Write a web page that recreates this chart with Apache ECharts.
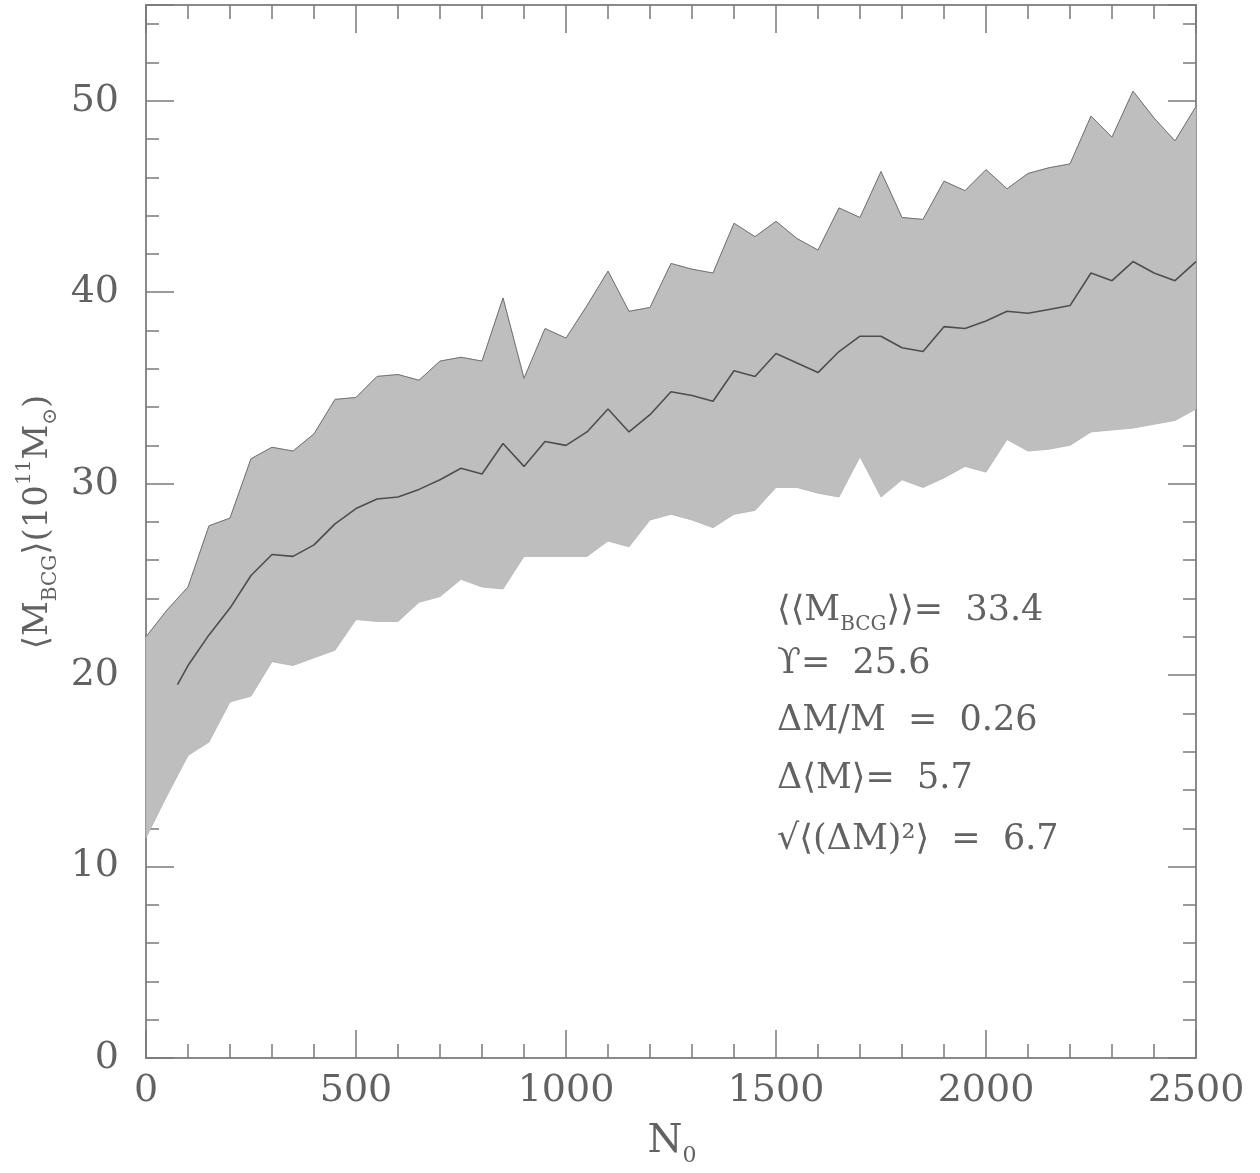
<!DOCTYPE html>
<html><head><meta charset="utf-8">
<script src="https://cdn.jsdelivr.net/npm/echarts@6/dist/echarts.min.js"></script>
<style>html,body{margin:0;padding:0;background:#fff}#c{width:1260px;height:1173px}</style>
</head><body><div id="c"></div>
<script>
// ---- data ----
const nValues = [0,50,100,150,200,250,300,350,400,450,500,550,600,650,700,750,800,850,900,950,
  1000,1050,1100,1150,1200,1250,1300,1350,1400,1450,1500,1550,1600,1650,1700,1750,1800,1850,1900,1950,
  2000,2050,2100,2150,2200,2250,2300,2350,2400,2450,2500];
const upperValues = [22.0,23.4,24.6,27.8,28.2,31.3,31.9,31.7,32.6,34.4,
  34.5,35.6,35.7,35.4,36.4,36.6,36.4,39.7,35.5,38.1,
  37.6,39.3,41.1,39.0,39.2,41.5,41.2,41.0,43.6,42.9,
  43.7,42.8,42.2,44.4,43.9,46.3,43.9,43.8,45.8,45.3,
  46.4,45.4,46.2,46.5,46.7,49.2,48.1,50.5,49.1,47.9,49.7];
const lowerValues = [11.5,13.7,15.8,16.5,18.6,18.9,20.7,20.5,20.9,21.3,
  22.9,22.8,22.8,23.8,24.1,25.0,24.6,24.5,26.2,26.2,
  26.2,26.2,27.0,26.7,28.1,28.4,28.1,27.7,28.4,28.6,
  29.8,29.8,29.5,29.3,31.4,29.3,30.2,29.8,30.3,30.9,
  30.6,32.3,31.7,31.8,32.0,32.7,32.8,32.9,33.1,33.3,33.9];
const meanN = [75,100,150,200,250,300,350,400,450,500,550,600,650,700,750,800,850,900,950,
  1000,1050,1100,1150,1200,1250,1300,1350,1400,1450,1500,1550,1600,1650,1700,1750,1800,1850,1900,1950,
  2000,2050,2100,2150,2200,2250,2300,2350,2400,2450,2500];
const meanValues = [19.5,20.5,22.1,23.5,25.2,26.3,26.2,26.8,27.9,28.7,29.2,29.3,29.7,30.2,30.8,30.5,32.1,30.9,32.2,
  32.0,32.7,33.9,32.7,33.6,34.8,34.6,34.3,35.9,35.6,36.8,36.3,35.8,36.9,37.7,37.7,37.1,36.9,38.2,38.1,
  38.5,39.0,38.9,39.1,39.3,41.0,40.6,41.6,41.0,40.6,41.6];
const yTickLabels = [0,10,20,30,40,50];
const xTickLabels = [0,500,1000,1500,2000,2500];

// ---- style ----
const FONT = '"DejaVu Serif", "Liberation Serif", serif';
const TXT = '#626262';
const AX = '#8a8a8a';

const chart = echarts.init(document.getElementById('c'), null, {renderer: 'canvas'});

const bandData = nValues.map((n, i) => [n, lowerValues[i], upperValues[i]]);
const upperData = nValues.map((n, i) => [n, upperValues[i]]);
const meanData = meanN.map((n, i) => [n, meanValues[i]]);

function yAxisDef(pos, major, showLabel) {
  return {
    type: 'value', position: pos, min: 0, max: 55, interval: major ? 10 : 2,
    axisLine: {show: true, onZero: false, lineStyle: {color: AX, width: 2}},
    axisTick: {show: true, inside: true, length: major ? 28 : 13, lineStyle: {color: '#7a7a7a', width: 1.5}},
    axisLabel: {show: showLabel, margin: 27, fontSize: 38, color: TXT, fontFamily: FONT,
      formatter: v => (yTickLabels.indexOf(v) >= 0 ? String(v) : '')},
    splitLine: {show: false}
  };
}
function xAxisDef(pos, showLabel) {
  return {
    type: 'value', position: pos, min: 0, max: 2500, interval: 500,
    axisLine: {show: true, onZero: false, lineStyle: {color: AX, width: 2}},
    axisTick: {show: true, inside: true, length: 28, lineStyle: {color: '#7a7a7a', width: 1.5}},
    minorTick: {show: true, splitNumber: 5, length: 14, lineStyle: {color: '#7a7a7a', width: 1.5}},
    axisLabel: {show: showLabel, margin: 14, fontSize: 38, color: TXT, fontFamily: FONT,
      formatter: v => (xTickLabels.indexOf(v) >= 0 ? String(v) : '')},
    splitLine: {show: false}, minorSplitLine: {show: false}
  };
}

const mainRich = {
  m: {fontSize: 34, fontFamily: FONT, color: TXT, lineHeight: 46, verticalAlign: 'middle'},
  sb: {fontSize: 20, fontFamily: FONT, color: TXT, lineHeight: 22, verticalAlign: 'bottom'},
  sp: {fontSize: 20, fontFamily: FONT, color: TXT, lineHeight: 26, verticalAlign: 'top'}
};
const statRich = {
  m: {fontSize: 35, fontFamily: FONT, color: TXT, lineHeight: 48, verticalAlign: 'middle'},
  sb: {fontSize: 20, fontFamily: FONT, color: TXT, lineHeight: 21, verticalAlign: 'bottom'}
};
const statLines = [
  '{m|⟨⟨M}{sb|BCG}{m|⟩⟩=  33.4}',
  '{m|ϒ=  25.6}',
  '{m|ΔM/M  =  0.26}',
  '{m|Δ⟨M⟩=  5.7}',
  '{m|√⟨(ΔM)²⟩  =  6.7}'
];
const statY = [617, 670, 727, 785, 846];

const graphics = statLines.map((t, i) => ({
  type: 'text', left: 777, top: statY[i] - 24, z: 10,
  style: {text: t, rich: statRich, fill: TXT}
}));
graphics.push({
  type: 'text', x: 38, y: 522, rotation: Math.PI / 2, z: 10,
  style: {text: '{m|⟨M}{sb|BCG}{m|⟩(10}{sp|11}{m|M}{sb|⊙}{m|)}', rich: mainRich,
    align: 'center', verticalAlign: 'middle', fill: TXT}
});
graphics.push({
  type: 'text', x: 672, y: 1142, z: 10,
  style: {text: '{m|N}{sb|0}', rich: {
      m: {fontSize: 40, fontFamily: FONT, color: TXT, lineHeight: 50, verticalAlign: 'middle'},
      sb: {fontSize: 22, fontFamily: FONT, color: TXT, lineHeight: 26, verticalAlign: 'bottom'}},
    align: 'center', verticalAlign: 'middle', fill: TXT}
});

chart.setOption({
  backgroundColor: '#ffffff',
  animation: false,
  grid: {left: 146, right: 64, top: 5, bottom: 115, containLabel: false},
  xAxis: [xAxisDef('bottom', true), xAxisDef('top', false)],
  yAxis: [yAxisDef('left', true, true), yAxisDef('left', false, false),
          yAxisDef('right', true, false), yAxisDef('right', false, false)],
  series: [
    {
      type: 'custom', xAxisIndex: 0, yAxisIndex: 0, z: 2,
      data: bandData, encode: {x: 0, y: [1, 2]},
      renderItem: function (params, api) {
        if (params.dataIndex !== 0) return null;
        const pts = [];
        for (let i = 0; i < nValues.length; i++) pts.push(api.coord([nValues[i], upperValues[i]]));
        for (let i = nValues.length - 1; i >= 0; i--) pts.push(api.coord([nValues[i], lowerValues[i]]));
        return {type: 'polygon', shape: {points: pts}, style: {fill: '#bebebe', stroke: '#b4b4b4', lineWidth: 0.8}};
      }
    },
    {
      type: 'line', xAxisIndex: 0, yAxisIndex: 0, z: 3, data: upperData, symbol: 'none',
      lineStyle: {color: '#747474', width: 1}
    },
    {
      type: 'line', xAxisIndex: 0, yAxisIndex: 0, z: 4, data: meanData, symbol: 'none',
      lineStyle: {color: '#4e4e4e', width: 1.6}
    }
  ],
  graphic: graphics
});
</script></body></html>
